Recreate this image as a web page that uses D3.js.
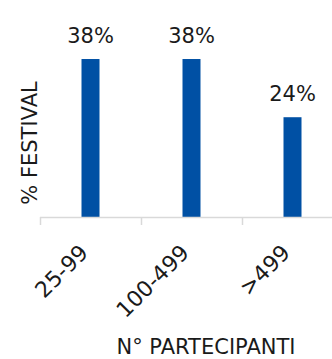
<!DOCTYPE html>
<html>
<head>
<meta charset="utf-8">
<script src="https://cdn.jsdelivr.net/npm/d3@7"></script>
<style>
  html, body { margin: 0; padding: 0; background: #fff; }
  svg { display: block; }
  text { font-family: "DejaVu Sans", sans-serif; fill: #1a1a1a; }
</style>
</head>
<body>
<svg id="chart" width="332" height="359"></svg>
<script>
// Share of festivals by number of participants
const categories = ["25-99", "100-499", ">499"];
const values = [38, 38, 24];
const valueLabels = ["38%", "38%", "24%"];
const yTitle = "% FESTIVAL";
const xTitle = "N° PARTECIPANTI";

const svg = d3.select("#chart");
const W = 332, H = 359;
const baseY = 217;

const x = d3.scaleBand()
  .domain(categories)
  .range([40, 343])
  .paddingInner(0)
  .paddingOuter(0);

const y = d3.scaleLinear()
  .domain([0, 40])
  .range([baseY, baseY - 166.3]);

const barW = 18;

// bars
svg.append("g").selectAll("rect")
  .data(categories)
  .join("rect")
  .attr("x", (d) => x(d) + x.bandwidth() / 2 - barW / 2)
  .attr("width", barW)
  .attr("y", (d, i) => y(values[i]))
  .attr("height", (d, i) => y(0) - y(values[i]))
  .attr("fill", "#0050a4");

// value labels
svg.append("g").selectAll("text")
  .data(categories)
  .join("text")
  .attr("x", (d) => x(d) + x.bandwidth() / 2)
  .attr("y", (d, i) => y(values[i]) - 16)
  .attr("text-anchor", "middle")
  .attr("font-size", 21)
  .text((d, i) => valueLabels[i]);

// x axis: baseline with ticks at band edges
const axis = svg.append("g").attr("class", "x-axis");
axis.append("line")
  .attr("x1", x.range()[0]).attr("x2", W)
  .attr("y1", baseY + 0.5).attr("y2", baseY + 0.5)
  .attr("stroke", "#d9d9d9").attr("stroke-width", 1.5);
const edges = categories.map((d) => x(d)).concat([x.range()[1]]);
axis.selectAll("line.tick")
  .data(edges)
  .join("line")
  .attr("class", "tick")
  .attr("x1", (d) => d + 0.5).attr("x2", (d) => d + 0.5)
  .attr("y1", baseY).attr("y2", baseY + 8)
  .attr("stroke", "#d9d9d9").attr("stroke-width", 1.5);

// rotated category labels
axis.selectAll("text")
  .data(categories)
  .join("text")
  .attr("transform", (d) => `translate(${x(d) + x.bandwidth() / 2 - 1},${baseY + 37}) rotate(-45)`)
  .attr("text-anchor", "end")
  .attr("font-size", 22)
  .text((d) => d);

// axis titles
svg.append("text")
  .attr("transform", `translate(37,143) rotate(-90)`)
  .attr("text-anchor", "middle")
  .attr("font-size", 21)
  .text(yTitle);

svg.append("text")
  .attr("x", 206)
  .attr("y", 354)
  .attr("text-anchor", "middle")
  .attr("font-size", 21)
  .text(xTitle);
</script>
</body>
</html>
